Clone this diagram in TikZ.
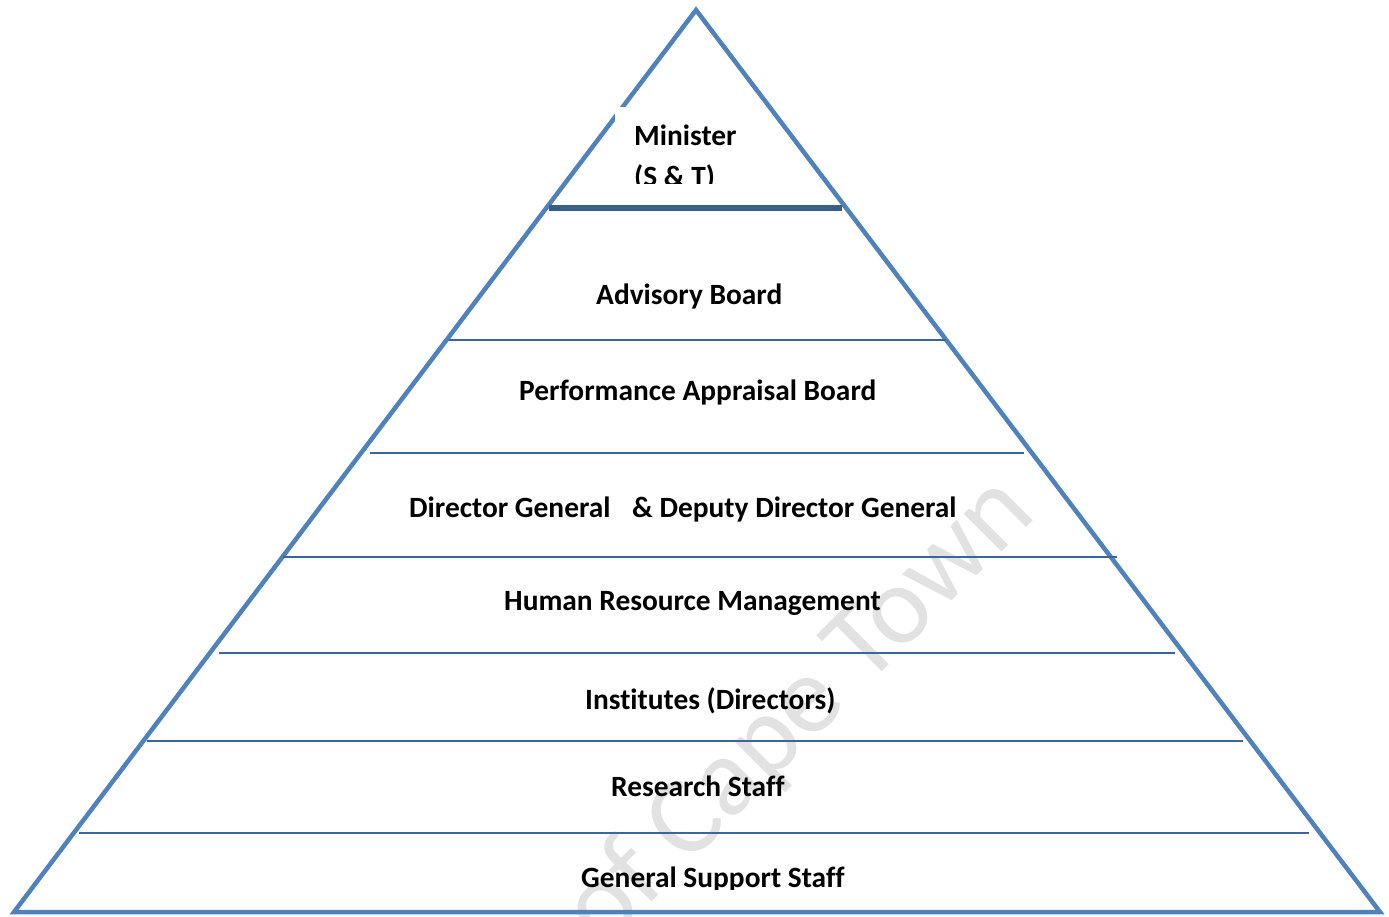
\documentclass[tikz,border=0pt]{standalone}
\usepackage{fontspec}
\setmainfont{Carlito}[Ligatures=NoCommon]
\definecolor{edgeblue}{RGB}{79,129,189}
\definecolor{tierblue}{RGB}{62,100,154}
\definecolor{topblue}{RGB}{56,94,140}
\definecolor{wmgray}{RGB}{226,226,226}
\begin{document}
\begin{tikzpicture}[x=1pt,y=-1pt,
  pyramidedge/.style={draw=edgeblue,line width=4.5pt,line join=miter},
  tier/.style={draw=tierblue,line width=2.2pt},
  topbar/.style={draw=topblue,line width=6pt},
  lbl/.style={font=\fontsize{29.4}{41}\selectfont\bfseries,anchor=base west,inner sep=0pt}]
\useasboundingbox (0,0) rectangle (1389,916);
\clip (0,0) rectangle (1389,916);
% watermark
\node[rotate=45,text=wmgray,font=\fontsize{112}{112}\selectfont,inner sep=0pt] (wm) at (800,712) {of Cape Town};
% pyramid outline
\coordinate (apex) at (696,10);
\coordinate (bl) at (14,912);
\coordinate (br) at (1380,912);
\draw[pyramidedge] (apex) -- (br) -- (bl) -- cycle;
% tiers
\draw[topbar] (549,208) -- (842,208);
\draw[tier] (449,340) -- (946,340);
\draw[tier] (370,453) -- (1024,453);
\draw[tier] (283,557) -- (1117,557);
\draw[tier] (219,653) -- (1175,653);
\draw[tier] (147,741) -- (1243,741);
\draw[tier] (79,833) -- (1309,833);
% minister box
\fill[white] (615,107) rectangle (758,184);
\begin{scope}
\clip (615,107) rectangle (758,183.5);
\node[lbl] (min) at (634,145) {Minister};
\node[lbl] (st) at (634,186) {(S \& T)};
\end{scope}
\node[lbl] (adv) at (596,304) {Advisory Board};
\node[lbl] (pab) at (519,400) {Performance Appraisal Board};
\node[lbl] (dg) at (409,517) {Director General\hspace{15pt} \& Deputy Director General};
\node[lbl] (hrm) at (504,610) {Human Resource Management};
\node[lbl] (inst) at (585,709) {Institutes (Directors)};
\node[lbl] (res) at (611,796) {Research Staff};
\begin{scope}
\clip (500,840) rectangle (900,889);
\node[lbl] (gss) at (581,887) {General Support Staff};
\end{scope}
\end{tikzpicture}
\end{document}
